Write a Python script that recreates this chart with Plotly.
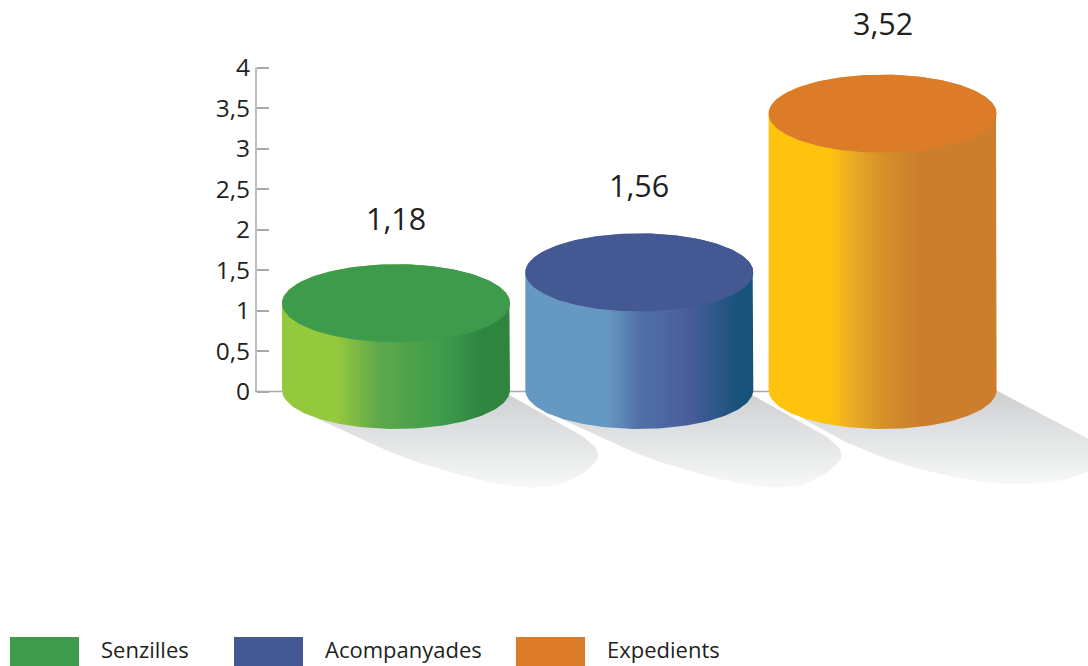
import numpy as np
import plotly.graph_objects as go

# Series
categories = ["Senzilles", "Acompanyades", "Expedients"]
values = [1.18, 1.56, 3.52]
tick_values = [0, 0.5, 1, 1.5, 2, 2.5, 3, 3.5, 4]
tick_labels = ["0", "0,5", "1", "1,5", "2", "2,5", "3", "3,5", "4"]

# Colours of each cylinder: cap, curved side, legend swatch
cap_colors = ["#3e9b4c", "#445994", "#dd7c28"]
side_scales = [
    [[0, "#95c93d"], [0.24, "#95c93d"], [0.42, "#60a84a"], [0.7, "#3e9c4c"], [0.88, "#2f8540"], [1, "#2f8540"]],
    [[0, "#6699c2"], [0.36, "#6699c2"], [0.5, "#5071a8"], [0.71, "#4a5e9c"], [0.94, "#17527a"], [1, "#17527a"]],
    [[0, "#ffc20e"], [0.27, "#ffc20e"], [0.38, "#e8a826"], [0.5, "#d59029"], [0.66, "#cc7e2c"], [1, "#cc7e2c"]],
]
shadow_scale = [[0, "#f7f8f8"], [1, "#cdcfd1"]]

# Page and scale geometry, in pixels
W, H = 1088, 666
PX_PER_VALUE = 81
PX_PER_SLOT = 243.3
ZERO_Y = 391.5
FIRST_X = 396
SPINE_X = 256
RX, RY = 114, 39
BASE_RISE = 1.5           # base ellipse centre above the zero line
CAP_DROP = 0.09           # cap centre sits slightly under its value on the wall scale
BASELINE_END_X = 780
LABEL_LIFT = [77.5, 80.5, 83.5]

# Cast shadows as offsets from the cylinder's base centre, in pixels:
# a straight upper edge, a rounded far end, then a straight run back under the base
short_upper = [(0, 0), (114, 4), (187, 45)]
short_curve = [(187, 45), (203, 58), (201, 72), (171, 92), (141, 97), (101, 93), (44, 78), (2, 64), (-29, 50)]
short_lower = [(-79, 27), (0, 0)]
long_upper = [(0, 0), (114, -1), (224, 57)]
long_curve = [(224, 57), (240, 68), (205, 81), (170, 92), (120, 93), (87, 89), (20, 74), (-36, 51)]
long_lower = [(-80, 27), (0, 0)]


def round_corners(points, passes=3):
    """Chaikin corner cutting, keeping the first and last point."""
    pts = np.array(points, dtype=float)
    for _ in range(passes):
        q = 0.75 * pts[:-1] + 0.25 * pts[1:]
        r = 0.25 * pts[:-1] + 0.75 * pts[1:]
        mid = np.empty((2 * len(q), 2))
        mid[0::2], mid[1::2] = q, r
        pts = np.vstack([pts[0], mid, pts[-1]])
    return pts


def shadow_outline(upper, curve, lower):
    return np.vstack([np.array(upper[:-1], float), round_corners(curve), np.array(lower, float)])


shadow_shapes = [
    shadow_outline(short_upper, short_curve, short_lower),
    shadow_outline(short_upper, short_curve, short_lower),
    shadow_outline(long_upper, long_curve, long_lower),
]

# Legend row, in pixels
legend_swatch_x = [10, 234, 516]
legend_text_x = [101, 325, 607]
SWATCH_W = 69
SWATCH_TOP = 637
LEGEND_TEXT_Y = 648.5

FONT = "Open Sans"
INK = "#231f20"
AXIS = "#a7a9ac"

drx = RX / PX_PER_SLOT
dry = RY / PX_PER_VALUE
base = BASE_RISE / PX_PER_VALUE
x_range = [-FIRST_X / PX_PER_SLOT, (W - FIRST_X) / PX_PER_SLOT]
y_range = [-(H - ZERO_Y) / PX_PER_VALUE, ZERO_Y / PX_PER_VALUE]

fig = go.Figure()

# Shadows lie on the floor, under everything else
for i, outline in enumerate(shadow_shapes):
    fig.add_trace(go.Scatter(
        x=i + outline[:, 0] / PX_PER_SLOT,
        y=-outline[:, 1] / PX_PER_VALUE,
        mode="lines", line=dict(width=0, color="rgba(0,0,0,0)"),
        fill="toself", fillgradient=dict(type="vertical", colorscale=shadow_scale),
        hoverinfo="skip", showlegend=False,
    ))

# Value axis spine and the floor line behind the cylinders
fig.add_trace(go.Scatter(
    x=[(SPINE_X - FIRST_X) / PX_PER_SLOT] * 2 + [(BASELINE_END_X - FIRST_X) / PX_PER_SLOT],
    y=[tick_values[-1], 0, 0],
    mode="lines", line=dict(color=AXIS, width=1.5), hoverinfo="skip", showlegend=False,
))

# Cylinders: the side runs from the base ellipse up to the cap, then the cap on top
theta = np.linspace(0, np.pi, 90)
full = np.linspace(0, 2 * np.pi, 180)
for i, (name, value) in enumerate(zip(categories, values)):
    top = value - CAP_DROP
    side_x = np.concatenate([i - drx * np.cos(theta), i + drx * np.cos(theta)])
    side_y = np.concatenate([base - dry * np.sin(theta), top + dry * np.sin(theta)])
    fig.add_trace(go.Scatter(
        x=side_x, y=side_y, mode="lines", line=dict(width=0, color="rgba(0,0,0,0)"),
        fill="toself", fillgradient=dict(type="horizontal", colorscale=side_scales[i]),
        name=name, hoverinfo="name", showlegend=False,
    ))
    fig.add_trace(go.Scatter(
        x=i + drx * np.cos(full), y=top + dry * np.sin(full),
        mode="lines", line=dict(width=0, color=cap_colors[i]),
        fill="toself", fillcolor=cap_colors[i],
        name=name, hoverinfo="name", showlegend=False,
    ))

# Value labels above each cylinder
for i, value in enumerate(values):
    fig.add_annotation(
        x=i, y=value, yshift=LABEL_LIFT[i], text=f"{value:.2f}".replace(".", ","),
        showarrow=False, font=dict(family=FONT, size=30.5, color=INK),
        xanchor="center", yanchor="middle",
    )

# Legend row along the bottom edge
for name, color, sx, tx in zip(categories, cap_colors, legend_swatch_x, legend_text_x):
    fig.add_shape(
        type="rect", xref="paper", yref="paper", line_width=0, fillcolor=color,
        x0=sx / W, x1=(sx + SWATCH_W) / W, y0=0, y1=(H - SWATCH_TOP) / H,
    )
    fig.add_annotation(
        xref="paper", yref="paper", x=tx / W, y=(H - LEGEND_TEXT_Y) / H, text=name,
        showarrow=False, xanchor="left", yanchor="middle", xshift=-2,
        font=dict(family=FONT, size=22, color=INK),
    )

fig.update_layout(
    width=W, height=H, margin=dict(l=0, r=0, t=0, b=0),
    paper_bgcolor="white", plot_bgcolor="white", showlegend=False,
    xaxis=dict(range=x_range, visible=False, fixedrange=True),
    yaxis=dict(
        range=y_range, anchor="free", position=SPINE_X / W, side="left",
        tickmode="array", tickvals=tick_values, ticktext=tick_labels,
        ticks="inside", ticklen=12, tickwidth=1.5, tickcolor=AXIS,
        ticklabelstandoff=6, tickfont=dict(family=FONT, size=24.5, color=INK),
        showgrid=False, zeroline=False, showline=False, fixedrange=True,
    ),
)

fig.write_html("out.html")
